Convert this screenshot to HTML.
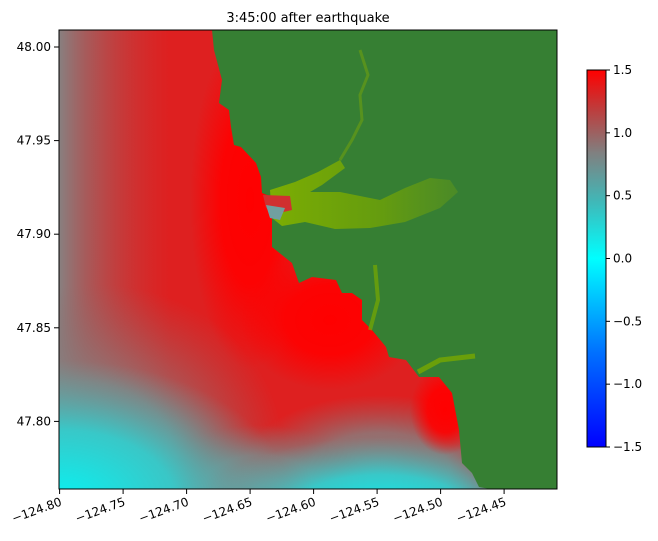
<!DOCTYPE html>
<html><head><meta charset="utf-8"><style>
html,body{margin:0;padding:0;background:#fff;overflow:hidden;width:658px;height:541px}
svg{display:block;font-family:"DejaVu Sans","Liberation Sans",sans-serif}
</style></head><body>
<svg id="chart" width="658" height="541" viewBox="0 0 658 541" xmlns="http://www.w3.org/2000/svg">
<defs>
<clipPath id="plotclip"><rect x="59" y="30" width="498" height="459"/></clipPath>
<linearGradient id="cbgrad" x1="0" y1="1" x2="0" y2="0">
<stop offset="0" stop-color="#0000ff"/>
<stop offset="0.25" stop-color="#0070ff"/>
<stop offset="0.5" stop-color="#00ffff"/>
<stop offset="0.65" stop-color="#40b8b8"/>
<stop offset="0.78" stop-color="#808080"/>
<stop offset="0.9" stop-color="#c03a3a"/>
<stop offset="1" stop-color="#ff0000"/>
</linearGradient>
<linearGradient id="leftgray" gradientUnits="userSpaceOnUse" x1="59" y1="0" x2="170" y2="0">
<stop offset="0" stop-color="#888080" stop-opacity="1"/>
<stop offset="0.25" stop-color="#9a6868" stop-opacity="0.8"/>
<stop offset="1" stop-color="#c04040" stop-opacity="0"/>
</linearGradient>
<radialGradient id="fade-gray" cx="0.5" cy="0.5" r="0.5">
<stop offset="0" stop-color="#7f8585" stop-opacity="1"/>
<stop offset="0.5" stop-color="#858080" stop-opacity="0.8"/>
<stop offset="1" stop-color="#906868" stop-opacity="0"/>
</radialGradient>
<radialGradient id="fade-cyan" cx="0.5" cy="0.5" r="0.5">
<stop offset="0" stop-color="#08f2f2" stop-opacity="1"/>
<stop offset="0.5" stop-color="#30d0d0" stop-opacity="0.9"/>
<stop offset="1" stop-color="#60a8a8" stop-opacity="0"/>
</radialGradient>
<radialGradient id="fade-red" cx="0.5" cy="0.5" r="0.5">
<stop offset="0" stop-color="#ff0000" stop-opacity="1"/>
<stop offset="0.5" stop-color="#ff0000" stop-opacity="0.9"/>
<stop offset="1" stop-color="#ff0000" stop-opacity="0"/>
</radialGradient>
<linearGradient id="estgrad" x1="0" y1="0" x2="1" y2="0">
<stop offset="0" stop-color="#80b000" stop-opacity="0.95"/>
<stop offset="0.6" stop-color="#78a800" stop-opacity="0.7"/>
<stop offset="1" stop-color="#70a010" stop-opacity="0.35"/>
</linearGradient>
</defs>
<text x="308" y="22" text-anchor="middle" font-size="13">3:45:00 after earthquake</text>
<g clip-path="url(#plotclip)">
<rect x="59" y="30" width="498" height="459" fill="#de2020"/>
<g>
<ellipse cx="250" cy="200" rx="60" ry="170" fill="url(#fade-red)"/>
<ellipse cx="330" cy="320" rx="90" ry="70" fill="url(#fade-red)"/>
<rect x="59" y="30" width="120" height="459" fill="url(#leftgray)"/>
<ellipse cx="70" cy="480" rx="220" ry="190" fill="url(#fade-gray)" transform="rotate(-25 70 480)"/>
<ellipse cx="380" cy="470" rx="140" ry="75" fill="url(#fade-gray)"/>
<ellipse cx="260" cy="485" rx="110" ry="60" fill="url(#fade-gray)"/>
<ellipse cx="60" cy="500" rx="230" ry="140" fill="url(#fade-cyan)"/>
<ellipse cx="380" cy="512" rx="180" ry="75" fill="url(#fade-cyan)"/>
<ellipse cx="445" cy="410" rx="35" ry="45" fill="url(#fade-red)"/>
</g>
<path fill="#367f33" d="M212,30 L214,50 L222,80 L219,103 L229,110 L231,127 L234,145 L241,147 L256,163 L261,177 L262,193 L272,197 L272,230 L272,247 L292,263 L299,283 L312,277 L336,280 L342,293 L352,293 L362,300 L362,320 L372,330 L386,347 L389,357 L406,360 L419,377 L439,377 L452,393 L459,430 L462,463 L472,473 L479,487 L490,489 L557,489 L557,30 Z"/>
<g>
<path d="M270,190 L295,182 L318,172 L340,160 L345,168 L322,185 L310,192 L340,192 L380,200 L405,188 L430,178 L450,180 L458,192 L440,208 L405,222 L370,228 L335,229 L305,222 L282,226 L272,218 Z" fill="url(#estgrad)"/>
<path d="M340,160 L352,140 L362,120 L360,95 L368,75 L360,50" fill="none" stroke="#6e9e10" stroke-width="3" opacity="0.6"/>
<path d="M370,330 L378,300 L375,265" fill="none" stroke="#78a800" stroke-width="4" opacity="0.7"/>
<path d="M418,372 L440,360 L475,356" fill="none" stroke="#78a800" stroke-width="5" opacity="0.8"/>
<path d="M263,195 L290,196 L292,210 L275,214 L266,208 Z" fill="#d03030"/>
<path d="M266,205 L285,208 L280,220 L270,218 Z" fill="#70a0a0"/>
</g>
</g>
<rect x="59" y="30" width="498" height="459" fill="none" stroke="#000" stroke-width="1"/>
<g id="xaxis"></g>
<g id="yaxis"></g>
<rect x="587" y="70" width="19" height="377" fill="url(#cbgrad)" stroke="#000" stroke-width="1"/>
<g id="cbaxis"></g>
</svg>
<script>
const xTicks = [-124.80, -124.75, -124.70, -124.65, -124.60, -124.55, -124.50, -124.45];
const yTicks = [48.00, 47.95, 47.90, 47.85, 47.80];
const cbTicks = [1.5, 1.0, 0.5, 0.0, -0.5, -1.0, -1.5];
const NS = "http://www.w3.org/2000/svg";
function xs(v){return 59.6 + (v + 124.80) / 0.05 * 63.5;}
function ys(v){return 47 + (48.00 - v) / 0.05 * 93.6;}
function cs(v){return 70 + (1.5 - v) / 3 * 377;}
function mk(tag, attrs, parent){const e=document.createElementNS(NS,tag);for(const k in attrs)e.setAttribute(k,attrs[k]);parent.appendChild(e);return e;}
function fmtNeg(s){return s.replace('-', '\u2212');}
const xg=document.getElementById('xaxis');
xTicks.forEach(v=>{
  const x=xs(v);
  const l=mk('line',{x1:x,y1:489,x2:x,y2:494,stroke:'#000'},xg);
  
  
  const t=mk('text',{x:x+3,y:505,'text-anchor':'end','font-size':'12',transform:`rotate(-20 ${x+3} 505)`},xg);
  t.textContent=fmtNeg(v.toFixed(2));
  
  
});
const yg=document.getElementById('yaxis');
yTicks.forEach(v=>{
  const y=ys(v);
  const l=mk('line',{x1:54,y1:y,x2:59,y2:y,stroke:'#000'},yg);
  
  
  const t=mk('text',{x:51,y:y+4,'text-anchor':'end','font-size':'12'},yg);
  t.textContent=v.toFixed(2);
  
  
});
const cg=document.getElementById('cbaxis');
cbTicks.forEach(v=>{
  const y=cs(v);
  const l=mk('line',{x1:606,y1:y,x2:610,y2:y,stroke:'#000'},cg);
  
  
  const t=mk('text',{x:613,y:y+4,'font-size':'12'},cg);
  t.textContent=fmtNeg(v.toFixed(1));
  
  
});
</script>
</body></html>
